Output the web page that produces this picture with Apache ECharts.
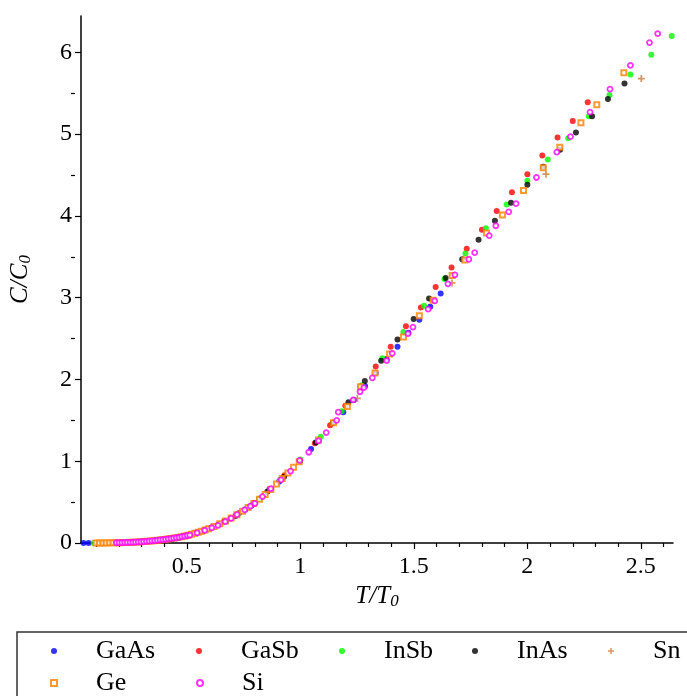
<!DOCTYPE html>
<html>
<head>
<meta charset="utf-8">
<script src="https://cdn.jsdelivr.net/npm/echarts@6/dist/echarts.min.js"></script>
<style>
  html, body { margin: 0; padding: 0; background: #fff; }
  #chart { width: 687px; height: 696px; }
</style>
</head>
<body>
<div id="chart"></div>
<script>
// Reduced heat capacity C/C0 against reduced temperature T/T0 for several semiconductors.

const X_RANGE = [0.0336, 2.6416];
const Y_RANGE = [0, 6.445];

const xMajorTicks = [0.5, 1, 1.5, 2, 2.5];
const xMinorTicks = [0.1, 0.2, 0.3, 0.4, 0.6, 0.7, 0.8, 0.9, 1.1, 1.2, 1.3, 1.4,
                     1.6, 1.7, 1.8, 1.9, 2.1, 2.2, 2.3, 2.4, 2.6];
const yMajorTicks = [0, 1, 2, 3, 4, 5, 6];
const yMinorTicks = [0.5, 1.5, 2.5, 3.5, 4.5, 5.5];

const GaAs = [[0.045,0.000],[0.067,0.000],[0.190,0.003],[0.330,0.022],[0.470,0.072],[0.608,0.190],
  [0.757,0.410],[0.906,0.750],[1.047,1.15],[1.189,1.60],[1.236,1.75],[1.285,1.92],[1.332,2.08],
  [1.380,2.25],[1.428,2.40],[1.476,2.57],[1.524,2.73],[1.572,2.89],[1.618,3.05]];

const GaSb = [[0.200,0.004],[0.266,0.010],[0.333,0.022],[0.400,0.045],[0.465,0.072],[0.530,0.118],
  [0.597,0.178],[0.664,0.265],[0.730,0.368],[0.797,0.490],[0.864,0.660],[0.930,0.830],[0.997,1.010],
  [1.064,1.22],[1.131,1.44],[1.198,1.68],[1.265,1.91],[1.332,2.16],[1.398,2.40],[1.465,2.65],
  [1.531,2.88],[1.596,3.13],[1.666,3.37],[1.733,3.60],[1.800,3.83],[1.865,4.06],[1.932,4.29],
  [2.000,4.51],[2.066,4.74],[2.133,4.96],[2.200,5.16],[2.266,5.39]];

const InSb = [[0.089,0.000],[0.180,0.003],[0.270,0.011],[0.360,0.029],[0.455,0.064],[0.545,0.127],
  [0.636,0.222],[0.727,0.355],[0.818,0.540],[0.909,0.770],[1.000,1.02],[1.090,1.30],[1.182,1.61],
  [1.271,1.93],[1.361,2.26],[1.454,2.58],[1.545,2.90],[1.635,3.23],[1.727,3.54],[1.817,3.85],
  [1.909,4.14],[2.000,4.43],[2.090,4.69],[2.180,4.95],[2.271,5.22],[2.362,5.48],[2.454,5.73],
  [2.546,5.97],[2.636,6.20]];

const InAs = [[0.360,0.028],[0.430,0.054],[0.500,0.092],[0.572,0.150],[0.643,0.228],[0.714,0.330],
  [0.785,0.460],[0.855,0.630],[0.928,0.810],[0.998,1.00],[1.068,1.23],[1.143,1.47],[1.212,1.72],
  [1.284,1.98],[1.356,2.23],[1.428,2.49],[1.499,2.74],[1.567,2.99],[1.640,3.24],[1.713,3.47],
  [1.785,3.71],[1.857,3.94],[1.928,4.16],[2.000,4.38],[2.070,4.60],[2.144,4.81],[2.214,5.02],
  [2.285,5.22],[2.355,5.43],[2.428,5.62]];

const Sn = [[0.417,0.046],[0.834,0.570],[1.251,1.77],[1.668,3.18],[2.082,4.51],[2.502,5.68]];

const Ge = [[0.100,0.000],[0.115,0.000],[0.130,0.001],[0.145,0.001],[0.160,0.002],[0.175,0.002],
  [0.190,0.003],[0.205,0.004],[0.220,0.005],[0.235,0.007],[0.250,0.008],[0.265,0.010],[0.280,0.012],
  [0.295,0.014],[0.310,0.017],[0.325,0.021],[0.340,0.025],[0.355,0.029],[0.370,0.033],[0.385,0.038],
  [0.400,0.042],[0.415,0.048],[0.430,0.054],[0.445,0.060],[0.460,0.067],[0.475,0.076],[0.490,0.085],
  [0.505,0.095],[0.520,0.106],[0.535,0.118],[0.550,0.130],[0.565,0.144],[0.580,0.158],[0.595,0.173],
  [0.620,0.202],[0.645,0.234],[0.670,0.268],[0.695,0.305],[0.720,0.345],[0.745,0.389],[0.770,0.433],
  [0.795,0.482],[0.820,0.536],[0.845,0.593],[0.870,0.655],[0.895,0.721],[0.920,0.788],[0.945,0.856],
  [0.970,0.925],[0.995,0.993],[1.080,1.26],[1.146,1.47],[1.207,1.67],[1.265,1.91],[1.329,2.08],
  [1.393,2.31],[1.454,2.52],[1.524,2.78],[1.585,2.97],[1.669,3.27],[1.724,3.46],[1.820,3.79],
  [1.890,4.01],[1.983,4.31],[2.070,4.59],[2.143,4.84],[2.236,5.14],[2.306,5.36],[2.425,5.75]];

const Si = [[0.190,0.003],[0.202,0.004],[0.214,0.005],[0.226,0.006],[0.238,0.007],[0.250,0.008],
  [0.262,0.009],[0.274,0.011],[0.286,0.013],[0.298,0.015],[0.310,0.017],[0.322,0.020],[0.334,0.023],
  [0.346,0.026],[0.358,0.029],[0.370,0.033],[0.382,0.037],[0.394,0.041],[0.406,0.045],[0.418,0.049],
  [0.430,0.054],[0.442,0.059],[0.454,0.064],[0.466,0.070],[0.478,0.077],[0.490,0.084],[0.502,0.092],
  [0.513,0.097],[0.545,0.124],[0.579,0.154],[0.610,0.186],[0.637,0.215],[0.669,0.262],[0.695,0.302],
  [0.721,0.348],[0.755,0.405],[0.780,0.450],[0.800,0.485],[0.833,0.568],[0.870,0.665],[0.915,0.772],
  [0.957,0.880],[0.997,1.01],[1.037,1.11],[1.080,1.25],[1.114,1.35],[1.160,1.50],[1.167,1.60],
  [1.233,1.75],[1.263,1.85],[1.280,1.90],[1.317,2.02],[1.380,2.23],[1.405,2.32],[1.474,2.56],
  [1.496,2.64],[1.563,2.86],[1.592,2.96],[1.650,3.17],[1.681,3.28],[1.742,3.47],[1.768,3.55],
  [1.832,3.76],[1.861,3.88],[1.918,4.05],[1.950,4.15],[2.040,4.47],[2.130,4.78],[2.190,4.97],
  [2.276,5.27],[2.364,5.55],[2.454,5.84],[2.538,6.12],[2.574,6.23]];

const SERIF = '"Liberation Serif", "Times New Roman", serif';
const PLUS = 'path://M3,0H5V3H8V5H5V8H3V5H0V3H3Z';
const SQUARE = 'path://M0,0H10V10H0Z';

const GRID = { left: 75, top: 16, width: 598, height: 527 };

function filled(name, data, color) {
  return { name, type: 'scatter', data, symbol: 'circle', symbolSize: 6,
           itemStyle: { color }, xAxisIndex: 0, yAxisIndex: 0 };
}

const axisTitleRich = {
  i: { fontFamily: SERIF, fontStyle: 'italic', fontSize: 25, color: '#000', padding: [0, 0, 10, 0] },
  s: { fontFamily: SERIF, fontStyle: 'italic', fontSize: 17, color: '#000' }
};

const chart = echarts.init(document.getElementById('chart'), null, { renderer: 'canvas' });

chart.setOption({
  animation: false,
  backgroundColor: '#fff',
  grid: GRID,
  xAxis: [
    {
      type: 'value', min: X_RANGE[0], max: X_RANGE[1], position: 'bottom',
      axisLine: { onZero: false, lineStyle: { color: '#000', width: 1.5 } },
      axisTick: { customValues: xMajorTicks, length: 6, lineStyle: { color: '#000', width: 1.2 } },
      axisLabel: { customValues: xMajorTicks, margin: 12, fontFamily: SERIF, fontSize: 24, color: '#000' },
      splitLine: { show: false },
      name: '{i|T/T}{s|0}', nameLocation: 'middle', nameGap: 38,
      nameTextStyle: { rich: axisTitleRich }
    },
    {
      type: 'value', min: X_RANGE[0], max: X_RANGE[1], position: 'top', offset: -GRID.height,
      axisLine: { show: false, onZero: false },
      axisTick: { inside: true, customValues: xMinorTicks, length: 4, lineStyle: { color: '#000', width: 1.2 } },
      axisLabel: { show: false }, splitLine: { show: false }
    }
  ],
  yAxis: [
    {
      type: 'value', min: Y_RANGE[0], max: Y_RANGE[1], position: 'left',
      axisLine: { show: true, onZero: false, lineStyle: { color: '#000', width: 1.5 } },
      axisTick: { show: true, customValues: yMajorTicks, length: 6, lineStyle: { color: '#000', width: 1.2 } },
      axisLabel: { customValues: yMajorTicks, margin: 9, fontFamily: SERIF, fontSize: 24, color: '#000' },
      splitLine: { show: false },
      name: '{i|C/C}{s|0}', nameLocation: 'middle', nameGap: 38, nameRotate: 90,
      nameTextStyle: { rich: axisTitleRich }
    },
    {
      type: 'value', min: Y_RANGE[0], max: Y_RANGE[1], position: 'right', offset: -GRID.width,
      axisLine: { show: false, onZero: false },
      axisTick: { show: true, inside: true, customValues: yMinorTicks, length: 4, lineStyle: { color: '#000', width: 1.2 } },
      axisLabel: { show: false }, splitLine: { show: false }
    }
  ],
  legend: {
    left: 50, top: 635, width: 640, padding: 0, itemGap: 0,
    itemWidth: 74, itemHeight: 6, selectedMode: false,
    textStyle: { fontFamily: SERIF, fontSize: 26, color: '#000', lineHeight: 32 },
    data: [
      { name: 'GaAs', textStyle: { width: 100 } },
      { name: 'GaSb', textStyle: { width: 98 } },
      { name: 'InSb', textStyle: { width: 88 } },
      { name: 'InAs', textStyle: { width: 91 } },
      { name: 'Sn' },
      { name: 'Ge', icon: SQUARE, textStyle: { width: 100 } },
      { name: 'Si', textStyle: { width: 98 } }
    ]
  },
  graphic: [{
    type: 'rect', silent: true, z: -1,
    shape: { x: 17, y: 632, width: 700, height: 90 },
    style: { fill: 'none', stroke: '#333', lineWidth: 1.5 }
  }],
  series: [
    filled('GaAs', GaAs, '#0000ff'),
    filled('GaSb', GaSb, '#ff0000'),
    filled('InSb', InSb, '#00ff00'),
    filled('InAs', InAs, '#000000'),
    { name: 'Sn', type: 'scatter', data: Sn, symbol: PLUS, symbolSize: 7,
      itemStyle: { color: '#c87a3c' } },
    { name: 'Ge', type: 'scatter', data: Ge, symbol: 'rect', symbolSize: 5,
      itemStyle: { color: '#ffffff', borderColor: '#ff8000', borderWidth: 2 } },
    { name: 'Si', type: 'scatter', data: Si, symbol: 'circle', symbolSize: 5,
      itemStyle: { color: '#ffffff', borderColor: '#ff00ff', borderWidth: 1.8 } }
  ]
});
</script>
</body>
</html>
